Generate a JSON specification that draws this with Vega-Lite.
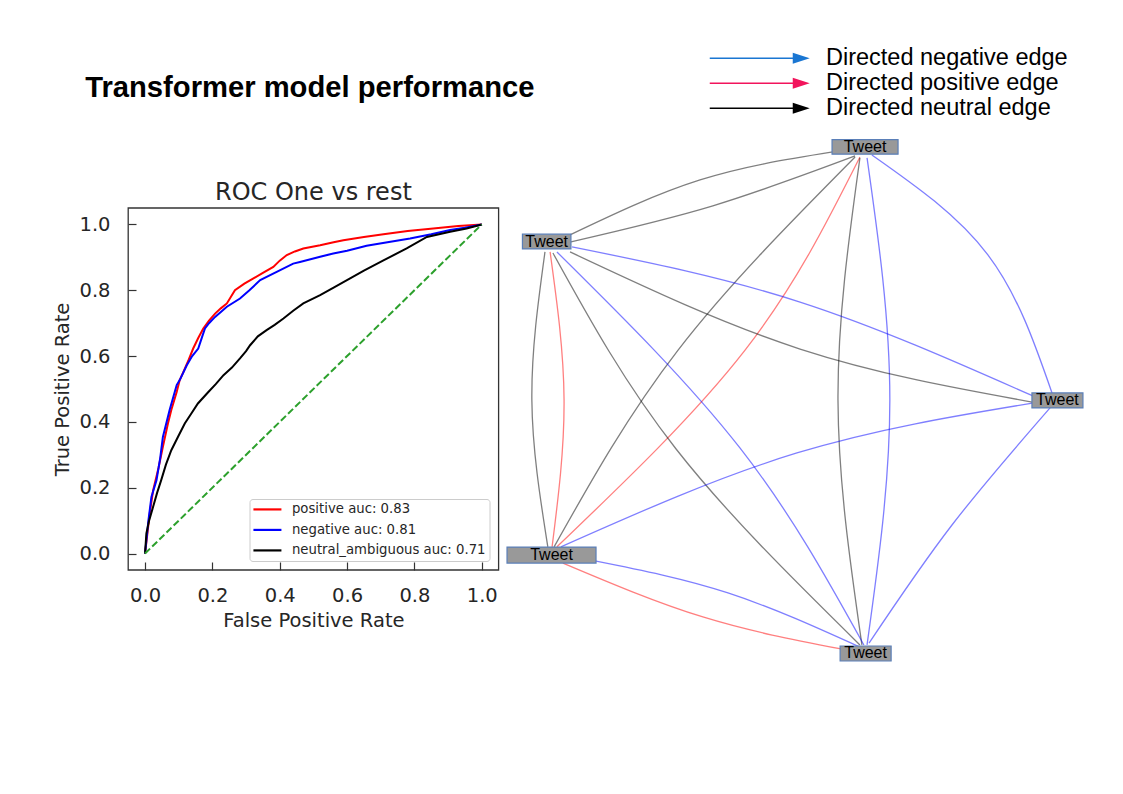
{
  "$schema": "https://vega.github.io/schema/vega-lite/v6.json",
  "width": 1123,
  "height": 794,
  "padding": 0,
  "autosize": {"type": "none"},
  "background": "white",
  "config": {"view": {"stroke": null}, "font": "DejaVu Sans"},
  "datasets": {
    "roc": [
      {"s": "positive auc: 0.83", "fpr": 0, "tpr": 0},
      {"s": "positive auc: 0.83", "fpr": 0.014, "tpr": 0.122},
      {"s": "positive auc: 0.83", "fpr": 0.024, "tpr": 0.192},
      {"s": "positive auc: 0.83", "fpr": 0.04, "tpr": 0.26},
      {"s": "positive auc: 0.83", "fpr": 0.053, "tpr": 0.324},
      {"s": "positive auc: 0.83", "fpr": 0.068, "tpr": 0.395},
      {"s": "positive auc: 0.83", "fpr": 0.078, "tpr": 0.436},
      {"s": "positive auc: 0.83", "fpr": 0.094, "tpr": 0.491},
      {"s": "positive auc: 0.83", "fpr": 0.103, "tpr": 0.527},
      {"s": "positive auc: 0.83", "fpr": 0.114, "tpr": 0.552},
      {"s": "positive auc: 0.83", "fpr": 0.13, "tpr": 0.59},
      {"s": "positive auc: 0.83", "fpr": 0.143, "tpr": 0.623},
      {"s": "positive auc: 0.83", "fpr": 0.158, "tpr": 0.655},
      {"s": "positive auc: 0.83", "fpr": 0.173, "tpr": 0.684},
      {"s": "positive auc: 0.83", "fpr": 0.19, "tpr": 0.708},
      {"s": "positive auc: 0.83", "fpr": 0.208, "tpr": 0.729},
      {"s": "positive auc: 0.83", "fpr": 0.225, "tpr": 0.745},
      {"s": "positive auc: 0.83", "fpr": 0.243, "tpr": 0.76},
      {"s": "positive auc: 0.83", "fpr": 0.267, "tpr": 0.8},
      {"s": "positive auc: 0.83", "fpr": 0.295, "tpr": 0.82},
      {"s": "positive auc: 0.83", "fpr": 0.322, "tpr": 0.836},
      {"s": "positive auc: 0.83", "fpr": 0.35, "tpr": 0.853},
      {"s": "positive auc: 0.83", "fpr": 0.381, "tpr": 0.871},
      {"s": "positive auc: 0.83", "fpr": 0.4, "tpr": 0.89},
      {"s": "positive auc: 0.83", "fpr": 0.421, "tpr": 0.907},
      {"s": "positive auc: 0.83", "fpr": 0.445, "tpr": 0.918},
      {"s": "positive auc: 0.83", "fpr": 0.47, "tpr": 0.927},
      {"s": "positive auc: 0.83", "fpr": 0.52, "tpr": 0.937},
      {"s": "positive auc: 0.83", "fpr": 0.56, "tpr": 0.946},
      {"s": "positive auc: 0.83", "fpr": 0.589, "tpr": 0.952},
      {"s": "positive auc: 0.83", "fpr": 0.65, "tpr": 0.962},
      {"s": "positive auc: 0.83", "fpr": 0.708, "tpr": 0.97},
      {"s": "positive auc: 0.83", "fpr": 0.78, "tpr": 0.98},
      {"s": "positive auc: 0.83", "fpr": 0.856, "tpr": 0.988},
      {"s": "positive auc: 0.83", "fpr": 0.93, "tpr": 0.995},
      {"s": "positive auc: 0.83", "fpr": 1, "tpr": 1},
      {"s": "negative auc: 0.81", "fpr": 0, "tpr": 0},
      {"s": "negative auc: 0.81", "fpr": 0.01, "tpr": 0.1},
      {"s": "negative auc: 0.81", "fpr": 0.019, "tpr": 0.172},
      {"s": "negative auc: 0.81", "fpr": 0.034, "tpr": 0.223},
      {"s": "negative auc: 0.81", "fpr": 0.045, "tpr": 0.29},
      {"s": "negative auc: 0.81", "fpr": 0.053, "tpr": 0.354},
      {"s": "negative auc: 0.81", "fpr": 0.073, "tpr": 0.436},
      {"s": "negative auc: 0.81", "fpr": 0.094, "tpr": 0.512},
      {"s": "negative auc: 0.81", "fpr": 0.103, "tpr": 0.527},
      {"s": "negative auc: 0.81", "fpr": 0.124, "tpr": 0.572},
      {"s": "negative auc: 0.81", "fpr": 0.14, "tpr": 0.6},
      {"s": "negative auc: 0.81", "fpr": 0.158, "tpr": 0.623},
      {"s": "negative auc: 0.81", "fpr": 0.17, "tpr": 0.66},
      {"s": "negative auc: 0.81", "fpr": 0.178, "tpr": 0.684},
      {"s": "negative auc: 0.81", "fpr": 0.19, "tpr": 0.7},
      {"s": "negative auc: 0.81", "fpr": 0.208, "tpr": 0.719},
      {"s": "negative auc: 0.81", "fpr": 0.243, "tpr": 0.75},
      {"s": "negative auc: 0.81", "fpr": 0.282, "tpr": 0.775},
      {"s": "negative auc: 0.81", "fpr": 0.31, "tpr": 0.8},
      {"s": "negative auc: 0.81", "fpr": 0.342, "tpr": 0.831},
      {"s": "negative auc: 0.81", "fpr": 0.391, "tpr": 0.856},
      {"s": "negative auc: 0.81", "fpr": 0.44, "tpr": 0.881},
      {"s": "negative auc: 0.81", "fpr": 0.46, "tpr": 0.886},
      {"s": "negative auc: 0.81", "fpr": 0.52, "tpr": 0.902},
      {"s": "negative auc: 0.81", "fpr": 0.559, "tpr": 0.912},
      {"s": "negative auc: 0.81", "fpr": 0.6, "tpr": 0.92},
      {"s": "negative auc: 0.81", "fpr": 0.658, "tpr": 0.935},
      {"s": "negative auc: 0.81", "fpr": 0.72, "tpr": 0.946},
      {"s": "negative auc: 0.81", "fpr": 0.787, "tpr": 0.957},
      {"s": "negative auc: 0.81", "fpr": 0.85, "tpr": 0.97},
      {"s": "negative auc: 0.81", "fpr": 0.906, "tpr": 0.983},
      {"s": "negative auc: 0.81", "fpr": 0.95, "tpr": 0.99},
      {"s": "negative auc: 0.81", "fpr": 1, "tpr": 1},
      {"s": "neutral_ambiguous auc: 0.71", "fpr": 0, "tpr": 0},
      {"s": "neutral_ambiguous auc: 0.71", "fpr": 0.004, "tpr": 0.061},
      {"s": "neutral_ambiguous auc: 0.71", "fpr": 0.012, "tpr": 0.1},
      {"s": "neutral_ambiguous auc: 0.71", "fpr": 0.024, "tpr": 0.142},
      {"s": "neutral_ambiguous auc: 0.71", "fpr": 0.036, "tpr": 0.185},
      {"s": "neutral_ambiguous auc: 0.71", "fpr": 0.048, "tpr": 0.223},
      {"s": "neutral_ambiguous auc: 0.71", "fpr": 0.062, "tpr": 0.27},
      {"s": "neutral_ambiguous auc: 0.71", "fpr": 0.078, "tpr": 0.314},
      {"s": "neutral_ambiguous auc: 0.71", "fpr": 0.098, "tpr": 0.355},
      {"s": "neutral_ambiguous auc: 0.71", "fpr": 0.118, "tpr": 0.395},
      {"s": "neutral_ambiguous auc: 0.71", "fpr": 0.137, "tpr": 0.425},
      {"s": "neutral_ambiguous auc: 0.71", "fpr": 0.157, "tpr": 0.456},
      {"s": "neutral_ambiguous auc: 0.71", "fpr": 0.188, "tpr": 0.491},
      {"s": "neutral_ambiguous auc: 0.71", "fpr": 0.21, "tpr": 0.515},
      {"s": "neutral_ambiguous auc: 0.71", "fpr": 0.233, "tpr": 0.542},
      {"s": "neutral_ambiguous auc: 0.71", "fpr": 0.258, "tpr": 0.565},
      {"s": "neutral_ambiguous auc: 0.71", "fpr": 0.282, "tpr": 0.593},
      {"s": "neutral_ambiguous auc: 0.71", "fpr": 0.3, "tpr": 0.615},
      {"s": "neutral_ambiguous auc: 0.71", "fpr": 0.312, "tpr": 0.633},
      {"s": "neutral_ambiguous auc: 0.71", "fpr": 0.335, "tpr": 0.66},
      {"s": "neutral_ambiguous auc: 0.71", "fpr": 0.361, "tpr": 0.679},
      {"s": "neutral_ambiguous auc: 0.71", "fpr": 0.385, "tpr": 0.695},
      {"s": "neutral_ambiguous auc: 0.71", "fpr": 0.411, "tpr": 0.714},
      {"s": "neutral_ambiguous auc: 0.71", "fpr": 0.44, "tpr": 0.738},
      {"s": "neutral_ambiguous auc: 0.71", "fpr": 0.47, "tpr": 0.76},
      {"s": "neutral_ambiguous auc: 0.71", "fpr": 0.52, "tpr": 0.785},
      {"s": "neutral_ambiguous auc: 0.71", "fpr": 0.56, "tpr": 0.808},
      {"s": "neutral_ambiguous auc: 0.71", "fpr": 0.609, "tpr": 0.836},
      {"s": "neutral_ambiguous auc: 0.71", "fpr": 0.65, "tpr": 0.86},
      {"s": "neutral_ambiguous auc: 0.71", "fpr": 0.708, "tpr": 0.891},
      {"s": "neutral_ambiguous auc: 0.71", "fpr": 0.777, "tpr": 0.927},
      {"s": "neutral_ambiguous auc: 0.71", "fpr": 0.837, "tpr": 0.962},
      {"s": "neutral_ambiguous auc: 0.71", "fpr": 0.906, "tpr": 0.978},
      {"s": "neutral_ambiguous auc: 0.71", "fpr": 0.955, "tpr": 0.988},
      {"s": "neutral_ambiguous auc: 0.71", "fpr": 1, "tpr": 1}
    ],
    "diag": [{"fpr": 0, "tpr": 0}, {"fpr": 1, "tpr": 1}],
    "nodes": [
      {"id": "A", "label": "Tweet", "u": 0.309, "v": 0.951},
      {"id": "B", "label": "Tweet", "u": -0.808, "v": 0.596},
      {"id": "C", "label": "Tweet", "u": -0.791, "v": -0.58},
      {"id": "D", "label": "Tweet", "u": 0.311, "v": -0.949},
      {"id": "E", "label": "Tweet", "u": 0.984, "v": 0.0}
    ],
    "kinds": [
      {"kind": "Directed negative edge"},
      {"kind": "Directed positive edge"},
      {"kind": "Directed neutral edge"}
    ],
    "edges": [
      {"e": 1, "k": 0, "t": "neu", "u": -0.726, "v": 0.621},
      {"e": 1, "k": 1, "t": "neu", "u": -0.27, "v": 0.827},
      {"e": 1, "k": 2, "t": "neu", "u": 0.196, "v": 0.932},
      {"e": 2, "k": 0, "t": "neu", "u": -0.723, "v": 0.595},
      {"e": 2, "k": 1, "t": "neu", "u": -0.225, "v": 0.73},
      {"e": 2, "k": 2, "t": "neu", "u": 0.274, "v": 0.917},
      {"e": 3, "k": 0, "t": "neu", "u": 0.274, "v": 0.913},
      {"e": 3, "k": 1, "t": "neu", "u": -0.347, "v": 0.189},
      {"e": 3, "k": 2, "t": "neu", "u": -0.782, "v": -0.549},
      {"e": 4, "k": 0, "t": "pos", "u": 0.291, "v": 0.913},
      {"e": 4, "k": 1, "t": "pos", "u": -0.112, "v": 0.189},
      {"e": 4, "k": 2, "t": "pos", "u": -0.772, "v": -0.549},
      {"e": 5, "k": 0, "t": "neu", "u": 0.291, "v": 0.91},
      {"e": 5, "k": 1, "t": "neu", "u": 0.214, "v": 0.002},
      {"e": 5, "k": 2, "t": "neu", "u": 0.298, "v": -0.917},
      {"e": 6, "k": 0, "t": "neg", "u": 0.316, "v": 0.91},
      {"e": 6, "k": 1, "t": "neg", "u": 0.396, "v": 0.002},
      {"e": 6, "k": 2, "t": "neg", "u": 0.316, "v": -0.917},
      {"e": 7, "k": 0, "t": "neg", "u": 0.333, "v": 0.921},
      {"e": 7, "k": 1, "t": "neg", "u": 0.74, "v": 0.546},
      {"e": 7, "k": 2, "t": "neg", "u": 0.965, "v": 0.028},
      {"e": 8, "k": 0, "t": "neg", "u": -0.719, "v": 0.576},
      {"e": 8, "k": 1, "t": "neg", "u": 0.081, "v": 0.369},
      {"e": 8, "k": 2, "t": "neg", "u": 0.898, "v": 0.017},
      {"e": 9, "k": 0, "t": "neu", "u": -0.726, "v": 0.557},
      {"e": 9, "k": 1, "t": "neu", "u": 0.081, "v": 0.193},
      {"e": 9, "k": 2, "t": "neu", "u": 0.895, "v": -0.006},
      {"e": 10, "k": 0, "t": "neu", "u": -0.814, "v": 0.557},
      {"e": 10, "k": 1, "t": "neu", "u": -0.86, "v": 0.002},
      {"e": 10, "k": 2, "t": "neu", "u": -0.804, "v": -0.549},
      {"e": 11, "k": 0, "t": "pos", "u": -0.796, "v": 0.557},
      {"e": 11, "k": 1, "t": "pos", "u": -0.747, "v": 0.002},
      {"e": 11, "k": 2, "t": "pos", "u": -0.789, "v": -0.549},
      {"e": 12, "k": 0, "t": "neu", "u": -0.786, "v": 0.553},
      {"e": 12, "k": 1, "t": "neu", "u": -0.354, "v": -0.182},
      {"e": 12, "k": 2, "t": "neu", "u": 0.291, "v": -0.917},
      {"e": 13, "k": 0, "t": "neg", "u": -0.772, "v": 0.557},
      {"e": 13, "k": 1, "t": "neg", "u": -0.13, "v": -0.178},
      {"e": 13, "k": 2, "t": "neg", "u": 0.305, "v": -0.917},
      {"e": 14, "k": 0, "t": "neg", "u": -0.758, "v": -0.549},
      {"e": 14, "k": 1, "t": "neg", "u": 0.07, "v": -0.197},
      {"e": 14, "k": 2, "t": "neg", "u": 0.902, "v": -0.009},
      {"e": 15, "k": 0, "t": "neg", "u": 0.958, "v": -0.028},
      {"e": 15, "k": 1, "t": "neg", "u": 0.614, "v": -0.467},
      {"e": 15, "k": 2, "t": "neg", "u": 0.323, "v": -0.91},
      {"e": 16, "k": 0, "t": "neg", "u": -0.639, "v": -0.602},
      {"e": 16, "k": 1, "t": "neg", "u": -0.172, "v": -0.722},
      {"e": 16, "k": 2, "t": "neg", "u": 0.291, "v": -0.925},
      {"e": 17, "k": 0, "t": "pos", "u": -0.751, "v": -0.61},
      {"e": 17, "k": 1, "t": "pos", "u": -0.26, "v": -0.812},
      {"e": 17, "k": 2, "t": "pos", "u": 0.225, "v": -0.932}
    ]
  },
  "layer": [
    {
      "encoding": {
        "x": {"field": "u", "type": "quantitative", "scale": {"domain": [-2.726, 1.214], "nice": false, "zero": false}, "axis": null},
        "y": {"field": "v", "type": "quantitative", "scale": {"domain": [-1.476, 1.502], "nice": false, "zero": false}, "axis": null}
      },
      "layer": [
        {
          "data": {"name": "edges"},
          "mark": {"type": "line", "interpolate": "natural", "strokeWidth": 1.3, "strokeOpacity": 0.5},
          "encoding": {
            "detail": {"field": "e", "type": "nominal"},
            "order": {"field": "k", "type": "quantitative"},
            "stroke": {"field": "t", "type": "nominal", "scale": {"domain": ["neg", "pos", "neu"], "range": ["#0000ff", "#ff0000", "#000000"]}, "legend": null}
          }
        },
        {
          "data": {"name": "nodes"},
          "mark": {"type": "point", "filled": true, "fill": "#999999", "stroke": "#5a7fb8", "strokeWidth": 1.2, "opacity": 1, "fillOpacity": 1, "strokeOpacity": 1, "size": 10000},
          "encoding": {
            "shape": {"field": "id", "type": "nominal", "legend": null, "scale": {"domain": ["A", "B", "C", "D", "E"], "range": [
              "M-0.66,-0.145H0.66V0.145H-0.66Z",
              "M-0.485,-0.147H0.485V0.147H-0.485Z",
              "M-0.89,-0.16H0.89V0.16H-0.89Z",
              "M-0.51,-0.15H0.51V0.15H-0.51Z",
              "M-0.51,-0.15H0.51V0.15H-0.51Z"
            ]}}
          }
        },
        {
          "data": {"name": "nodes"},
          "mark": {"type": "text", "font": "Liberation Sans", "fontSize": 16, "align": "center", "baseline": "middle", "color": "#000000"},
          "encoding": {"text": {"field": "label"}}
        },
        {
          "data": {"name": "kinds"},
          "transform": [{"filter": "false"}],
          "mark": {"type": "point", "filled": true, "opacity": 1},
          "encoding": {
            "fill": {"field": "kind", "type": "nominal",
              "scale": {"domain": ["Directed negative edge", "Directed positive edge", "Directed neutral edge"], "range": ["#1a76d2", "#f2145c", "#000000"]},
              "legend": {"title": null, "orient": "none", "legendX": 748, "legendY": 46.5, "direction": "vertical",
                "symbolType": "M-5,-0.08H3.3V0.08H-5Z M3.3,-0.55L5,0L3.3,0.55Z", "symbolSize": 400, "symbolStrokeWidth": 0, "symbolOpacity": 1,
                "labelFont": "Liberation Sans", "labelFontSize": 23.5, "labelColor": "#000000", "labelOffset": 54.5, "labelLimit": 400,
                "rowPadding": 0, "padding": 0}
            }
          }
        }
      ]
    },
    {
      "layer": [
        {
          "data": {"name": "roc"},
          "mark": {"type": "line", "strokeWidth": 2},
          "encoding": {
            "x": {"field": "fpr", "type": "quantitative",
              "scale": {"domain": [-0.05, 1.05], "range": [128.2, 498.6], "nice": false, "zero": false},
              "axis": {"orient": "bottom", "offset": -224, "values": [0, 0.2, 0.4, 0.6, 0.8, 1], "format": ".1f", "title": "False Positive Rate",
                "domain": false, "grid": false, "tickSize": -8, "tickColor": "#333333", "tickWidth": 1.2,
                "labelFont": "DejaVu Sans", "labelFontSize": 19.5, "labelColor": "#262626", "labelPadding": 24, "labelFlush": false, "labelOverlap": false,
                "titleFont": "DejaVu Sans", "titleFontSize": 19.5, "titleFontWeight": "normal", "titleColor": "#262626", "titlePadding": 7}},
            "y": {"field": "tpr", "type": "quantitative",
              "scale": {"domain": [-0.05, 1.05], "range": [570, 208], "nice": false, "zero": false},
              "axis": {"orient": "left", "offset": -128, "values": [0, 0.2, 0.4, 0.6, 0.8, 1], "format": ".1f", "title": "True Positive Rate",
                "domain": false, "grid": false, "tickSize": -8, "tickColor": "#333333", "tickWidth": 1.2,
                "labelFont": "DejaVu Sans", "labelFontSize": 19.5, "labelColor": "#262626", "labelPadding": 26, "labelFlush": false, "labelOverlap": false,
                "titleFont": "DejaVu Sans", "titleFontSize": 19.5, "titleFontWeight": "normal", "titleColor": "#262626", "titlePadding": 6}},
            "color": {"field": "s", "type": "nominal",
              "scale": {"domain": ["positive auc: 0.83", "negative auc: 0.81", "neutral_ambiguous auc: 0.71"], "range": ["#ff0000", "#0000ff", "#000000"]},
              "legend": {"title": null, "orient": "none", "legendX": 249.5, "legendY": 499, "direction": "vertical",
                "symbolType": "M-2.8,0H2.8", "symbolSize": 100, "symbolStrokeWidth": 2.2, "symbolOffset": 7.5,
                "labelOffset": 17.9, "labelFont": "DejaVu Sans", "labelFontSize": 13.25, "labelColor": "#262626", "labelLimit": 300,
                "rowPadding": 6.5, "padding": 3.8, "fillColor": "white", "strokeColor": "#cccccc", "cornerRadius": 3}
            }
          }
        },
        {
          "data": {"values": [{}]},
          "mark": {"type": "rect", "filled": false, "stroke": "#333333", "strokeWidth": 1.3},
          "encoding": {
            "x": {"datum": -0.05, "type": "quantitative"}, "x2": {"datum": 1.05},
            "y": {"datum": -0.05, "type": "quantitative"}, "y2": {"datum": 1.05}
          }
        },
        {
          "data": {"name": "diag"},
          "mark": {"type": "line", "stroke": "#2ca02c", "strokeWidth": 2, "strokeDash": [7, 3]},
          "encoding": {
            "x": {"field": "fpr", "type": "quantitative"},
            "y": {"field": "tpr", "type": "quantitative"}
          }
        },
        {
          "data": {"values": [{}]},
          "mark": {"type": "text", "font": "DejaVu Sans", "fontSize": 24, "align": "center", "baseline": "alphabetic", "color": "#262626"},
          "encoding": {"x": {"datum": 0.5, "type": "quantitative"}, "y": {"datum": 1.074, "type": "quantitative"}, "text": {"value": "ROC One vs rest"}}
        },
        {
          "data": {"values": [{}]},
          "mark": {"type": "text", "font": "Liberation Sans", "fontSize": 29.2, "fontWeight": "bold", "align": "left", "baseline": "alphabetic", "color": "#000000"},
          "encoding": {"x": {"datum": -0.1776, "type": "quantitative"}, "y": {"datum": 1.386, "type": "quantitative"}, "text": {"value": "Transformer model performance"}}
        }
      ]
    }
  ],
  "resolve": {"scale": {"x": "independent", "y": "independent"}, "axis": {"x": "independent", "y": "independent"}}
}
